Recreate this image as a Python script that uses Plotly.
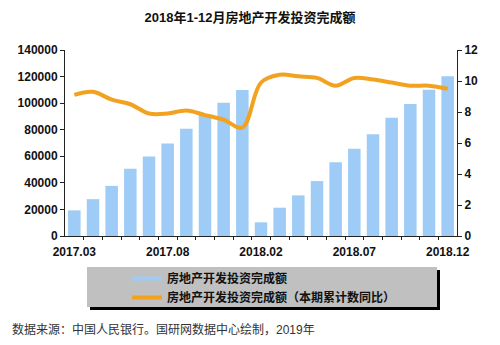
import plotly.graph_objects as go

months = ["2017.03", "2017.04", "2017.05", "2017.06", "2017.07", "2017.08", "2017.09",
          "2017.10", "2017.11", "2017.12", "2018.02", "2018.03", "2018.04", "2018.05",
          "2018.06", "2018.07", "2018.08", "2018.09", "2018.10", "2018.11", "2018.12"]
investment = [19292, 27732, 37715, 50610, 59761, 69694, 80644, 91111, 100387, 109799,
              10292, 21291, 30592, 41343, 55531, 65610, 76519, 88948, 99325, 110083, 120264]
yoy_growth = [9.1, 9.3, 8.8, 8.5, 7.9, 7.9, 8.1, 7.8, 7.5, 7.0,
              9.9, 10.4, 10.3, 10.2, 9.7, 10.2, 10.1, 9.9, 9.7, 9.7, 9.5]
label_months = ["2017.03", "2017.08", "2018.02", "2018.07", "2018.12"]

bar_name = "房地产开发投资完成额"
line_name = "房地产开发投资完成额（本期累计数同比）"
title_text = "2018年1-12月房地产开发投资完成额"
source_text = "数据来源：中国人民银行。国研网数据中心绘制，2019年"

BLUE = "#9ECCF7"
ORANGE = "#F2A21E"
FONT = "Arial, 'Liberation Sans', 'Noto Sans CJK SC', sans-serif"

xs = list(range(len(months)))
tickvals = [months.index(m) for m in label_months]

fig = go.Figure()
fig.add_trace(go.Bar(x=xs, y=investment, marker=dict(color=BLUE, line=dict(width=0)),
                     name=bar_name, showlegend=False, yaxis="y"))
fig.add_trace(go.Scatter(x=xs, y=yoy_growth, mode="lines", name=line_name,
                         line=dict(color=ORANGE, width=4, shape="spline", smoothing=1.0),
                         showlegend=False, yaxis="y2"))
# legend entries (line swatches, as in the reference)
fig.add_trace(go.Scatter(x=[None], y=[None], mode="lines", name="<b>" + bar_name + "</b>",
                         line=dict(color=BLUE, width=4), yaxis="y2"))
fig.add_trace(go.Scatter(x=[None], y=[None], mode="lines", name="<b>" + line_name + "</b>",
                         line=dict(color=ORANGE, width=4), yaxis="y2"))

L, R, T, B = 65, 43, 50, 109
W, H = 500, 345
pw, ph = W - L - R, H - T - B

def px_x(p):
    return (p - L) / pw

def px_y(p):
    return (H - B - p) / ph

shapes = [
    dict(type="rect", xref="paper", yref="paper", x0=px_x(90), x1=px_x(440),
         y0=px_y(270), y1=px_y(310), fillcolor="#000000", line=dict(width=0), layer="below"),
    dict(type="rect", xref="paper", yref="paper", x0=px_x(87), x1=px_x(437),
         y0=px_y(267), y1=px_y(307), fillcolor="#C0C0C0", line=dict(width=0), layer="below"),
]

fig.update_layout(
    width=W, height=H,
    margin=dict(l=L, r=R, t=T, b=B),
    paper_bgcolor="white", plot_bgcolor="white",
    font=dict(family=FONT, size=12, color="#111111"),
    title=dict(text="<b>" + title_text + "</b>", x=0.5, xanchor="center",
               y=1 - 17 / H, yanchor="middle", font=dict(size=13, color="#111111")),
    bargap=0.33,
    xaxis=dict(range=[-0.5, len(months) - 0.5], tickvals=tickvals,
               ticktext=["<b>" + m + "</b>" for m in label_months],
               ticks="", ticklabelstandoff=5, showline=True, linecolor="#222222", linewidth=1,
               showgrid=False, zeroline=False, tickfont=dict(size=12),
               minor=dict(tickvals=[i + 0.5 for i in xs[:-1]], ticks="outside",
                          ticklen=3, tickcolor="#222222", showgrid=False)),
    yaxis=dict(range=[0, 140000], dtick=20000, showline=True, linecolor="#222222",
               linewidth=1, ticks="outside", ticklen=4, tickcolor="#222222",
               showgrid=False, zeroline=False, tickformat="d",
               tickprefix="<b>", ticksuffix="</b>", tickfont=dict(size=12)),
    yaxis2=dict(range=[0, 12], dtick=2, overlaying="y", side="right", showline=True,
                linecolor="#222222", linewidth=1, ticks="outside", ticklen=4,
                tickcolor="#222222", showgrid=False, zeroline=False,
                tickprefix="<b>", ticksuffix="</b>", tickfont=dict(size=12)),
    legend=dict(x=px_x(127), y=px_y(264), xanchor="left", yanchor="top",
                bgcolor="rgba(0,0,0,0)", borderwidth=0, tracegroupgap=0,
                font=dict(size=12, color="#111111"), itemwidth=30,
                traceorder="normal"),
    shapes=shapes,
    annotations=[dict(text=source_text, xref="paper", yref="paper", x=px_x(10),
                      y=px_y(329), xanchor="left", yanchor="middle", showarrow=False,
                      font=dict(size=12, color="#333333"))],
)

fig.write_html("out.html")
